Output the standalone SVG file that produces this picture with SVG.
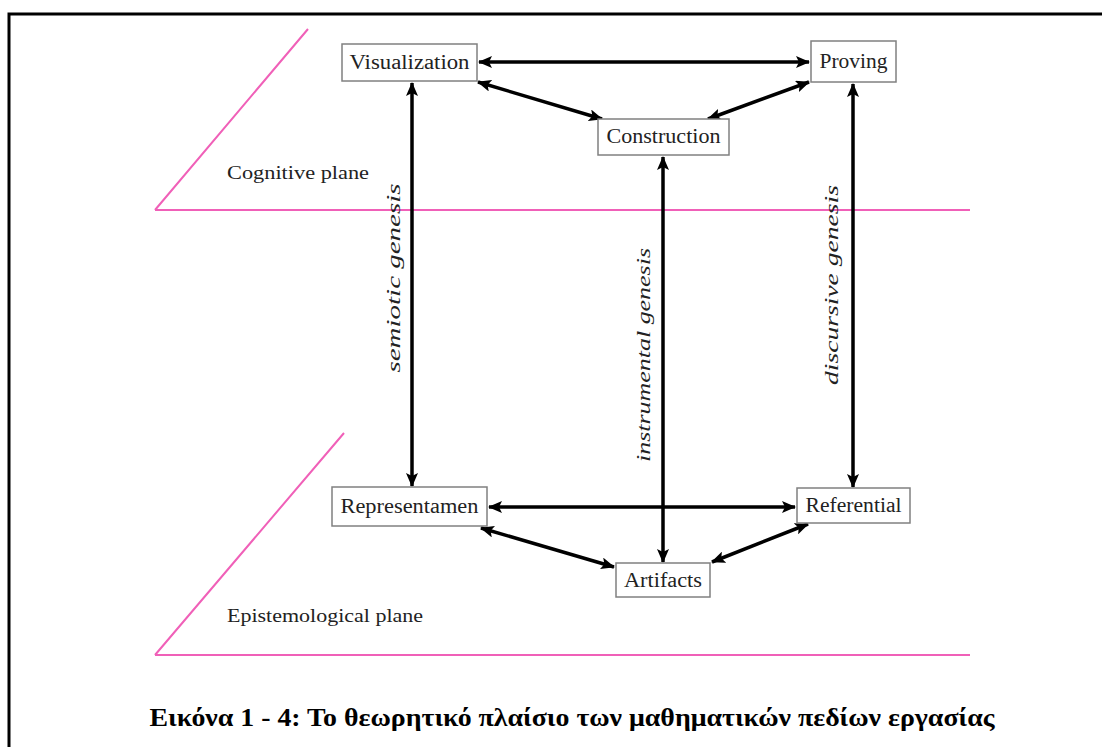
<svg xmlns="http://www.w3.org/2000/svg" width="1102" height="747" viewBox="0 0 1102 747">
<style>
.box{fill:#fff;stroke:#808080;stroke-width:1.5}
.lbl{font-family:"Liberation Serif","Times New Roman",serif;font-size:20px;fill:#222;text-anchor:middle}
.plane{font-family:"Liberation Serif","Times New Roman",serif;font-size:18px;fill:#222}
.gen{font-family:"Liberation Serif","Times New Roman",serif;font-style:italic;font-size:19px;fill:#222;text-anchor:middle}
.pink{stroke:#f060b8;stroke-width:2;fill:none}
.arr{stroke:#000;stroke-width:3.5;fill:none;marker-start:url(#ah);marker-end:url(#ah)}
.cap{font-family:"Liberation Serif","Times New Roman",serif;font-weight:bold;font-size:25px;fill:#000;text-anchor:middle}
</style>
<defs>
<marker id="ah" markerUnits="userSpaceOnUse" markerWidth="14" markerHeight="12" refX="13" refY="6" orient="auto-start-reverse">
<path d="M0,0 L14,6 L0,12 L3,6 z" fill="#000"/>
</marker>
</defs>
<rect width="1102" height="747" fill="#fff"/>
<path d="M9,747 V14 H1102" stroke="#000" stroke-width="3" fill="none"/>
<g id="planes">
<path class="pink" d="M155,210 L308,29 M155,210 H970"/>
<path class="pink" d="M155,655 L344,433 M155,655 H970"/>
<text class="plane" x="227" y="179" textLength="142" lengthAdjust="spacingAndGlyphs">Cognitive plane</text>
<text class="plane" x="227" y="622" textLength="196" lengthAdjust="spacingAndGlyphs">Epistemological plane</text>
</g>
<g id="connectors">
<line class="arr" x1="479" y1="62" x2="809" y2="62"/>
<line class="arr" x1="478" y1="82" x2="602" y2="119"/>
<line class="arr" x1="708" y1="119" x2="809" y2="82"/>
<line class="arr" x1="412" y1="83" x2="412" y2="486"/>
<line class="arr" x1="663" y1="157" x2="663" y2="562"/>
<line class="arr" x1="853" y1="84" x2="853" y2="487"/>
<line class="arr" x1="489" y1="507" x2="795" y2="507"/>
<line class="arr" x1="481" y1="528" x2="614" y2="567"/>
<line class="arr" x1="712" y1="562" x2="808" y2="524"/>
<text class="gen" transform="translate(400,278) rotate(-90)" textLength="189" lengthAdjust="spacingAndGlyphs">semiotic genesis</text>
<text class="gen" transform="translate(650,355) rotate(-90)" textLength="214" lengthAdjust="spacingAndGlyphs">instrumental genesis</text>
<text class="gen" transform="translate(838,285) rotate(-90)" textLength="200" lengthAdjust="spacingAndGlyphs">discursive genesis</text>
</g>
<g id="visualization">
<rect class="box" x="342" y="44" width="135" height="37"/>
<text class="lbl" x="409.5" y="69" textLength="120" lengthAdjust="spacingAndGlyphs">Visualization</text>
</g>
<g id="proving">
<rect class="box" x="811" y="41" width="85" height="41"/>
<text class="lbl" x="853.5" y="68" textLength="68" lengthAdjust="spacingAndGlyphs">Proving</text>
</g>
<g id="construction">
<rect class="box" x="598" y="119" width="131" height="36"/>
<text class="lbl" x="663.5" y="143" textLength="114" lengthAdjust="spacingAndGlyphs">Construction</text>
</g>
<g id="representamen">
<rect class="box" x="332" y="487" width="155" height="39"/>
<text class="lbl" x="409.5" y="513" textLength="138" lengthAdjust="spacingAndGlyphs">Representamen</text>
</g>
<g id="referential">
<rect class="box" x="797" y="488" width="113" height="35"/>
<text class="lbl" x="853.5" y="512" textLength="96" lengthAdjust="spacingAndGlyphs">Referential</text>
</g>
<g id="artifacts">
<rect class="box" x="616" y="563" width="94" height="34"/>
<text class="lbl" x="663" y="587" textLength="78" lengthAdjust="spacingAndGlyphs">Artifacts</text>
</g>
<text class="cap" x="572" y="726" textLength="845" lengthAdjust="spacingAndGlyphs">Εικόνα 1 - 4: Το θεωρητικό πλαίσιο των μαθηματικών πεδίων εργασίας</text>
</svg>
